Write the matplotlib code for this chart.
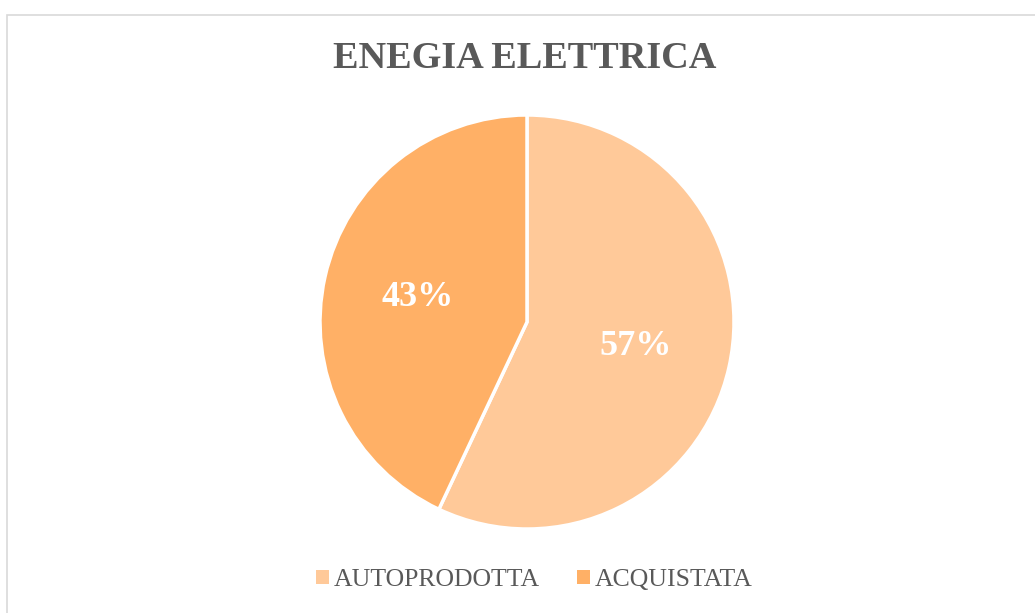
import matplotlib
matplotlib.use("Agg")
import matplotlib.pyplot as plt
from matplotlib.patches import Rectangle, Patch

categories = ["AUTOPRODOTTA", "ACQUISTATA"]
values = [57, 43]
colors = ["#FFC999", "#FFB066"]
title = "ENEGIA ELETTRICA"

W, H = 1035, 613
fig = plt.figure(figsize=(W / 100, H / 100), dpi=100)
fig.patch.set_facecolor("white")

# outer border (cut at right/bottom like the reference)
fig.patches.append(Rectangle((7 / W, -0.05), 1.1, (H - 15) / H + 0.05,
                             transform=fig.transFigure, fill=False,
                             edgecolor="#D9D9D9", linewidth=1.2))

cx, cy, r = 527, 322, 207
ax = fig.add_axes([(cx - r) / W, (H - cy - r) / H, 2 * r / W, 2 * r / H])
wedges, texts, autotexts = ax.pie(
    values, colors=colors, startangle=90, counterclock=False,
    autopct=lambda p: f"{p:.0f}%", pctdistance=0.54,
    wedgeprops=dict(edgecolor="white", linewidth=2.5),
    textprops=dict(color="white", fontsize=26, fontweight="bold",
                   family="Liberation Serif"))
ax.set_xlim(-1, 1)
ax.set_ylim(-1, 1)
ax.set_aspect("equal")
ax.axis("off")

fig.text(cx / W - 0.002, 1 - 59 / H, title, ha="center", va="center",
         fontsize=27.5, fontweight="bold", color="#595959",
         family="Liberation Serif")

handles = [Patch(facecolor=c, edgecolor="none") for c in colors]
fig.legend(handles, categories, loc="center", bbox_to_anchor=(534.5 / W, 1 - 580 / H),
           ncol=2, frameon=False, handlelength=0.5, handleheight=0.5,
           handletextpad=0.2, columnspacing=1.45,
           prop=dict(family="Liberation Serif", size=18.5),
           labelcolor="#595959")

fig.savefig("out.png", dpi=100)
